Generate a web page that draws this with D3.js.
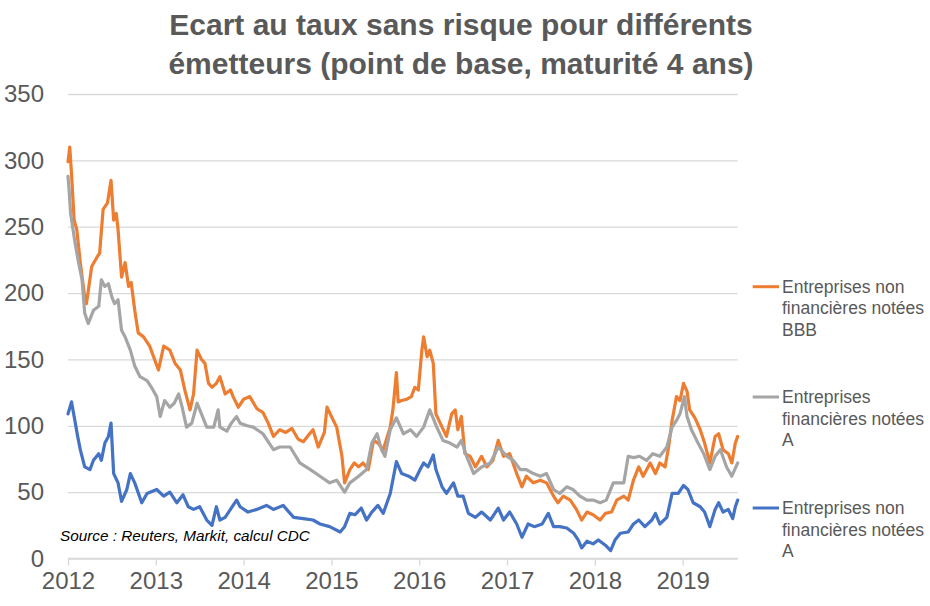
<!DOCTYPE html>
<html>
<head>
<meta charset="utf-8">
<script src="https://cdn.jsdelivr.net/npm/d3@7"></script>
<style>
  html, body { margin: 0; padding: 0; background: #fff; }
  svg { display: block; font-family: Arial, "Liberation Sans", sans-serif; }
</style>
</head>
<body>
<svg id="chart" width="930" height="606"></svg>
<script>
// ---------- DATA ----------
const titleLines = ["Ecart au taux sans risque pour différents", "émetteurs (point de base, maturité 4 ans)"];
const yearTicks = [2012, 2013, 2014, 2015, 2016, 2017, 2018, 2019];
const valueTicks = [0, 50, 100, 150, 200, 250, 300, 350];
const seriesNames = [
  ["Entreprises non", "financières notées", "BBB"],
  ["Entreprises", "financières notées", "A"],
  ["Entreprises non", "financières notées", "A"]
];
const sourceText = "Source : Reuters, Markit, calcul CDC";

// [decimal year, basis points]
const nonFinBBB = [
  [2012.00,299],[2012.02,310],[2012.04,290],[2012.07,255],[2012.10,248],[2012.14,223],[2012.19,197],[2012.21,192],
  [2012.27,220],[2012.33,227],[2012.36,230],[2012.40,263],[2012.45,268],[2012.49,285],[2012.52,255],[2012.55,260],
  [2012.57,248],[2012.61,212],[2012.65,223],[2012.69,205],[2012.72,208],[2012.76,187],[2012.80,170],[2012.86,167],
  [2012.93,160],[2013.03,142],[2013.09,160],[2013.16,157],[2013.22,147],[2013.28,142],[2013.33,127],[2013.39,112],
  [2013.43,124],[2013.47,157],[2013.52,150],[2013.56,147],[2013.60,132],[2013.64,129],[2013.69,132],[2013.73,137],
  [2013.79,124],[2013.85,127],[2013.88,122],[2013.94,114],[2014.00,120],[2014.07,122],[2014.15,113],[2014.22,110],
  [2014.28,102],[2014.34,92],[2014.41,97],[2014.48,95],[2014.55,98],[2014.62,90],[2014.68,88],[2014.74,93],
  [2014.79,97],[2014.85,84],[2014.92,95],[2014.95,114],[2015.00,107],[2015.06,99],[2015.12,77],[2015.15,57],
  [2015.21,67],[2015.26,72],[2015.31,69],[2015.36,72],[2015.42,67],[2015.48,89],[2015.53,87],[2015.59,82],
  [2015.67,99],[2015.70,112],[2015.74,140],[2015.76,118],[2015.80,119],[2015.86,120],[2015.91,122],[2015.95,129],
  [2015.99,127],[2016.03,157],[2016.05,167],[2016.09,152],[2016.12,157],[2016.16,147],[2016.19,109],[2016.26,99],
  [2016.31,92],[2016.37,109],[2016.41,112],[2016.44,97],[2016.48,107],[2016.52,79],[2016.58,77],[2016.64,69],
  [2016.71,77],[2016.77,69],[2016.84,74],[2016.90,89],[2016.96,77],[2017.03,79],[2017.11,64],[2017.17,54],
  [2017.22,62],[2017.30,57],[2017.38,59],[2017.45,57],[2017.53,47],[2017.58,42],[2017.64,47],[2017.72,44],
  [2017.79,37],[2017.85,29],[2017.91,35],[2017.98,33],[2018.06,29],[2018.12,34],[2018.19,35],[2018.25,44],
  [2018.33,47],[2018.38,44],[2018.44,59],[2018.50,69],[2018.55,62],[2018.63,72],[2018.69,64],[2018.74,72],
  [2018.80,69],[2018.84,84],[2018.88,104],[2018.93,122],[2018.97,119],[2019.01,132],[2019.05,126],[2019.08,112],
  [2019.14,106],[2019.20,97],[2019.25,87],[2019.31,72],[2019.37,92],[2019.41,94],[2019.46,82],[2019.52,79],
  [2019.56,72],[2019.60,87],[2019.627,92]
];

const finA = [
  [2012.00,288],[2012.01,280],[2012.03,260],[2012.08,238],[2012.12,223],[2012.16,210],[2012.19,185],[2012.23,177],
  [2012.29,187],[2012.35,190],[2012.38,210],[2012.42,205],[2012.46,207],[2012.50,197],[2012.53,192],[2012.57,195],
  [2012.61,172],[2012.65,167],[2012.71,157],[2012.76,145],[2012.82,137],[2012.90,134],[2012.95,129],[2013.01,122],
  [2013.05,107],[2013.10,119],[2013.16,114],[2013.21,117],[2013.26,124],[2013.30,114],[2013.35,99],[2013.41,102],
  [2013.47,117],[2013.52,109],[2013.58,99],[2013.66,99],[2013.71,112],[2013.73,99],[2013.81,96],[2013.86,102],
  [2013.92,107],[2013.96,102],[2014.04,100],[2014.11,99],[2014.22,94],[2014.34,82],[2014.41,84],[2014.53,84],
  [2014.64,72],[2014.76,67],[2014.87,62],[2014.98,57],[2015.06,59],[2015.15,50],[2015.21,57],[2015.31,62],
  [2015.40,67],[2015.46,87],[2015.52,94],[2015.57,82],[2015.61,77],[2015.67,97],[2015.74,106],[2015.82,94],
  [2015.90,97],[2015.97,92],[2016.05,99],[2016.12,112],[2016.20,99],[2016.27,89],[2016.35,87],[2016.43,84],
  [2016.48,89],[2016.54,77],[2016.62,64],[2016.71,69],[2016.81,72],[2016.90,84],[2017.00,77],[2017.07,74],
  [2017.15,67],[2017.22,67],[2017.30,64],[2017.38,62],[2017.45,64],[2017.53,52],[2017.60,49],[2017.68,54],
  [2017.75,52],[2017.83,47],[2017.91,44],[2017.98,44],[2018.06,42],[2018.13,44],[2018.21,57],[2018.27,57],
  [2018.33,57],[2018.38,77],[2018.44,76],[2018.51,77],[2018.59,74],[2018.66,79],[2018.74,77],[2018.82,84],
  [2018.88,99],[2018.93,104],[2018.97,109],[2019.02,122],[2019.05,107],[2019.10,97],[2019.16,89],[2019.24,79],
  [2019.31,67],[2019.37,77],[2019.43,82],[2019.50,69],[2019.56,62],[2019.627,72]
];

const nonFinA = [
  [2012.00,109],[2012.04,118],[2012.07,107],[2012.11,92],[2012.14,82],[2012.19,69],[2012.25,67],[2012.29,74],
  [2012.35,79],[2012.38,74],[2012.42,87],[2012.46,92],[2012.49,102],[2012.52,64],[2012.57,57],[2012.61,43],
  [2012.67,52],[2012.71,64],[2012.76,57],[2012.84,42],[2012.90,49],[2013.01,52],[2013.09,47],[2013.16,50],
  [2013.24,42],[2013.31,48],[2013.37,39],[2013.43,37],[2013.50,39],[2013.58,29],[2013.64,25],[2013.69,39],
  [2013.73,29],[2013.79,31],[2013.85,37],[2013.92,44],[2013.96,39],[2014.05,35],[2014.15,37],[2014.26,40],
  [2014.34,37],[2014.45,40],[2014.57,31],[2014.68,30],[2014.79,29],[2014.87,26],[2014.98,24],[2015.10,20],
  [2015.15,24],[2015.21,34],[2015.27,33],[2015.34,38],[2015.40,29],[2015.46,35],[2015.53,40],[2015.59,34],
  [2015.67,49],[2015.74,73],[2015.80,64],[2015.88,62],[2015.95,59],[2016.01,67],[2016.05,72],[2016.10,69],
  [2016.16,78],[2016.19,67],[2016.26,54],[2016.31,49],[2016.39,57],[2016.44,47],[2016.50,47],[2016.56,34],
  [2016.64,31],[2016.71,35],[2016.81,29],[2016.90,38],[2016.96,29],[2017.03,35],[2017.11,26],[2017.17,16],
  [2017.24,26],[2017.31,24],[2017.40,26],[2017.47,34],[2017.53,24],[2017.60,24],[2017.68,23],[2017.76,19],
  [2017.81,14],[2017.85,8],[2017.91,13],[2017.98,11],[2018.04,14],[2018.12,10],[2018.18,6],[2018.23,14],
  [2018.29,19],[2018.38,20],[2018.44,26],[2018.50,29],[2018.57,24],[2018.65,29],[2018.69,34],[2018.74,26],
  [2018.82,31],[2018.88,49],[2018.95,49],[2019.01,55],[2019.06,52],[2019.12,42],[2019.20,39],[2019.25,35],
  [2019.31,24],[2019.37,37],[2019.41,42],[2019.46,35],[2019.52,37],[2019.57,30],[2019.60,39],[2019.627,44]
];

const seriesData = [nonFinBBB, finA, nonFinA];
const seriesColors = ["#ED7D31", "#A5A5A5", "#4472C4"];

// ---------- LAYOUT ----------
const svg = d3.select("#chart");
const plot = { left: 68, right: 737.7, top: 94, bottom: 558.5 };
const textColor = "#595959";
const gridColor = "#D9D9D9";

const x = d3.scaleLinear().domain([2012, 2019.627]).range([plot.left, plot.right]);
const y = d3.scaleLinear().domain([0, 350]).range([plot.bottom, plot.top]);

// Title
svg.append("text")
  .attr("x", 461).attr("y", 35)
  .attr("text-anchor", "middle")
  .attr("fill", textColor)
  .style("font-size", "30px").style("font-weight", "bold")
  .selectAll("tspan").data(titleLines).join("tspan")
  .attr("x", 461).attr("dy", (d, i) => i === 0 ? 0 : 39)
  .text(d => d);

// Y grid + labels
const yAxis = d3.axisLeft(y).tickValues(valueTicks).tickSize(-(plot.right - plot.left)).tickPadding(24).tickFormat(d3.format("d"));
const gy = svg.append("g").attr("transform", `translate(${plot.left},0)`).call(yAxis);
gy.select(".domain").remove();
gy.selectAll(".tick line").attr("stroke", gridColor).attr("stroke-width", 1.3);
gy.selectAll(".tick text").attr("fill", textColor).style("font-size", "24px")
  .attr("font-family", "Arial, 'Liberation Sans', sans-serif");

// X axis
const xAxis = d3.axisBottom(x).tickValues(yearTicks).tickSize(7).tickPadding(6).tickFormat(d3.format("d"));
const gx = svg.append("g").attr("transform", `translate(0,${plot.bottom})`).call(xAxis);
gx.select(".domain").attr("stroke", gridColor).attr("stroke-width", 1.3)
  .attr("d", `M${plot.left},0H${plot.right}`);
gx.selectAll(".tick line").attr("stroke", gridColor).attr("stroke-width", 1.3);
gx.selectAll(".tick text").attr("fill", textColor).style("font-size", "24px")
  .attr("font-family", "Arial, 'Liberation Sans', sans-serif");

// Lines
const line = d3.line().x(d => x(d[0])).y(d => y(d[1])).curve(d3.curveLinear);
svg.append("g").selectAll("path").data(seriesData).join("path")
  .attr("d", line)
  .attr("fill", "none")
  .attr("stroke", (d, i) => seriesColors[i])
  .attr("stroke-width", 3.2)
  .attr("stroke-linejoin", "round")
  .attr("stroke-linecap", "round");

// Source
svg.append("text")
  .attr("x", 60).attr("y", 541)
  .attr("fill", "#000")
  .style("font-size", "15.3px").style("font-style", "italic")
  .text(sourceText);

// Legend
const legendY = [286.7, 397, 508];
const lg = svg.append("g").selectAll("g").data(seriesNames).join("g")
  .attr("transform", (d, i) => `translate(0,${legendY[i]})`);
lg.append("line")
  .attr("x1", 752.7).attr("x2", 779).attr("y1", 0).attr("y2", 0)
  .attr("stroke", (d, i) => seriesColors[i]).attr("stroke-width", 3);
lg.append("text")
  .attr("fill", textColor)
  .style("font-size", "17.5px")
  .selectAll("tspan").data(d => d).join("tspan")
  .attr("x", 782).attr("y", (d, i) => 6 + i * 21.5)
  .text(d => d);
</script>
</body>
</html>
